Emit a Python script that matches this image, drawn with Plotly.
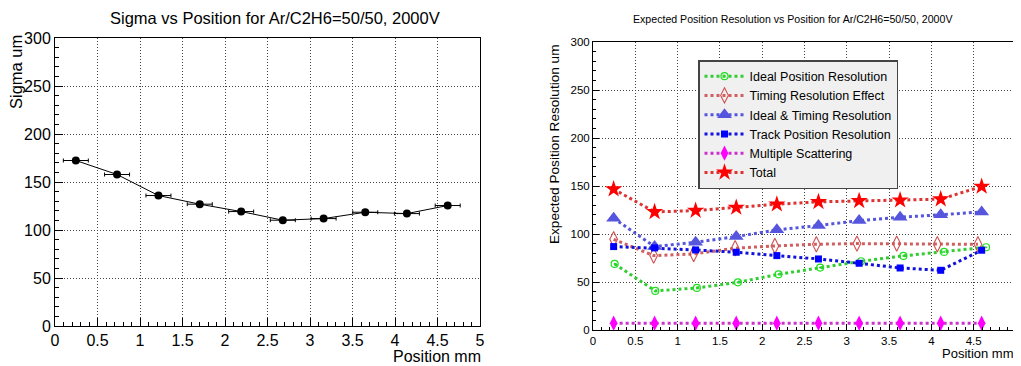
import plotly.graph_objects as go

# ---- Left chart data ----
pos_left = [0.245, 0.73, 1.217, 1.703, 2.19, 2.68, 3.16, 3.65, 4.14, 4.62]
sigma = [172.4, 157.8, 135.9, 126.9, 119.2, 110.2, 111.9, 118.5, 117.1, 125.5]
sigma_xerr = [0.147] * 10
sigma_yerr = [2.0] * 10

# ---- Right chart data ----
pos_main = [0.244, 0.728, 1.213, 1.693, 2.173, 2.665, 3.146, 3.63, 4.11, 4.594]
pos_ideal = [0.256, 0.736, 1.228, 1.713, 2.193, 2.685, 3.169, 3.669, 4.15, 4.646]
pos_timing = [0.244, 0.717, 1.19, 1.68, 2.15, 2.64, 3.12, 3.59, 4.07, 4.55]
ideal_res = [68.8, 40.7, 43.8, 49.7, 58.0, 65.0, 71.6, 77.2, 81.3, 86.2]
timing_eff = [94.5, 77.5, 79.2, 85.2, 87.6, 89.3, 90.0, 90.0, 89.3, 89.3]
ideal_timing = [116.4, 86.9, 91.4, 97.3, 104.3, 108.8, 114.0, 117.5, 120.0, 123.0]
track_res = [86.9, 85.5, 83.4, 81.0, 77.5, 74.0, 69.5, 64.6, 62.2, 83.1]
mult_scat = [7.0, 7.0, 7.0, 7.0, 7.0, 7.0, 7.0, 7.0, 7.0, 7.0]
total = [146.7, 123.0, 124.4, 127.6, 131.0, 133.5, 134.5, 135.2, 136.3, 149.5]

FONT = "Liberation Sans, Arial, Helvetica, sans-serif"

# page body has an 8px margin; figure is placed at (8, 8)
OFF = 8
W, H = 1021 - OFF, 366 - OFF

def px(x):
    return (x - OFF) / W

def py(y):
    return 1 - (y - OFF) / H

fig = go.Figure()

fig.add_trace(go.Scatter(
    x=pos_left, y=sigma, mode="lines+markers", showlegend=False,
    line=dict(color="black", width=1),
    marker=dict(color="black", size=8, symbol="circle"),
    error_x=dict(type="data", array=sigma_xerr, color="black", thickness=1, width=2),
    error_y=dict(type="data", array=sigma_yerr, color="black", thickness=1, width=0),
    xaxis="x", yaxis="y",
))

dot = "3px,3px"
series = [
    ("Ideal Position Resolution", pos_ideal, ideal_res, "#33cc33",
     dict(symbol="circle-open-dot", size=7, color="#22dd22", line=dict(width=1.2, color="#22dd22"))),
    ("Timing Resolution Effect", pos_timing, timing_eff, "#d06060",
     dict(symbol="diamond-tall-open", size=11, color="#d05050", line=dict(width=1.1, color="#d05050"))),
    ("Ideal & Timing Resolution", pos_main, ideal_timing, "#5555dd",
     dict(symbol="triangle-up", size=13, color="#5555dd", line=dict(width=0))),
    ("Track Position Resolution", pos_main, track_res, "#1111dd",
     dict(symbol="square", size=7, color="#0000ff", line=dict(width=0))),
    ("Multiple Scattering", pos_main, mult_scat, "#cc33cc",
     dict(symbol="diamond-tall", size=11, color="#ff00ff", line=dict(width=0))),
    ("Total", pos_main, total, "#dd3333",
     dict(symbol="star", size=13, color="#ff0000", line=dict(width=0))),
]
for name, xs, ys, lc, mk in series:
    fig.add_trace(go.Scatter(
        x=xs, y=ys, name=name, mode="lines+markers",
        line=dict(color=lc, width=3, dash=dot),
        marker=mk, xaxis="x2", yaxis="y2",
    ))

def xaxis_cfg(domain, anchor, fs, minor_len, major_len):
    return dict(
        domain=domain, anchor=anchor, range=[0, 5], dtick=0.5, tick0=0,
        showgrid=True, gridcolor="#444", griddash="1px,2px", gridwidth=1,
        showline=True, mirror=True, linecolor="black", linewidth=1,
        ticks="inside", ticklen=major_len, tickcolor="black",
        minor=dict(dtick=0.1, ticks="inside", ticklen=minor_len, tickcolor="black", showgrid=False),
        tickfont=dict(family=FONT, size=fs, color="black"), zeroline=False,
        tickangle=0, automargin=False,
    )

def yaxis_cfg(domain, anchor, fs, minor_len, major_len):
    return dict(
        domain=domain, anchor=anchor, range=[0, 300], dtick=50, tick0=0,
        showgrid=True, gridcolor="#444", griddash="1px,2px", gridwidth=1,
        showline=True, mirror=True, linecolor="black", linewidth=1,
        ticks="inside", ticklen=major_len, tickcolor="black",
        minor=dict(dtick=10, ticks="inside", ticklen=minor_len, tickcolor="black", showgrid=False),
        tickfont=dict(family=FONT, size=fs, color="black"), zeroline=False,
        automargin=False,
    )

fig.update_layout(
    width=W, height=H,
    margin=dict(l=0, r=0, t=0, b=0, autoexpand=False),
    paper_bgcolor="white", plot_bgcolor="white",
    font=dict(family=FONT, color="black"),
    xaxis=xaxis_cfg([px(55), px(480)], "y", 16, 4, 8),
    yaxis=yaxis_cfg([py(326), py(38)], "x", 16, 4, 8),
    xaxis2=xaxis_cfg([px(593), px(1016)], "y2", 11.5, 3, 6),
    yaxis2=yaxis_cfg([py(330), py(42)], "x2", 11.5, 3, 6),
    legend=dict(
        x=px(698), y=py(60), xanchor="left", yanchor="top", xref="paper", yref="paper",
        bgcolor="#f0f0f0", bordercolor="#444", borderwidth=1.5,
        font=dict(family=FONT, size=12.5, color="black"),
        tracegroupgap=0, itemwidth=40,
    ),
    annotations=[
        dict(text="Sigma vs Position for Ar/C2H6=50/50, 2000V", x=px(275), y=py(18),
             xref="paper", yref="paper", showarrow=False, xanchor="center", yanchor="middle",
             font=dict(size=16.5, family=FONT)),
        dict(text="Expected Position Resolution vs Position for Ar/C2H6=50/50, 2000V",
             x=px(793), y=py(19), xref="paper", yref="paper", showarrow=False,
             xanchor="center", yanchor="middle", font=dict(size=10.6, family=FONT)),
        dict(text="Sigma um", x=px(16), y=py(33), xref="paper", yref="paper",
             textangle=-90, showarrow=False, xanchor="center", yanchor="top",
             font=dict(size=16.5, family=FONT)),
        dict(text="Position mm", x=px(483), y=py(356), xref="paper", yref="paper",
             showarrow=False, xanchor="right", yanchor="middle",
             font=dict(size=16, family=FONT)),
        dict(text="Expected Position Resolution um", x=px(554), y=py(42),
             xref="paper", yref="paper", textangle=-90, showarrow=False,
             xanchor="center", yanchor="top", font=dict(size=13.6, family=FONT)),
        dict(text="Position mm", x=px(1016), y=py(353), xref="paper", yref="paper",
             showarrow=False, xanchor="right", yanchor="middle",
             font=dict(size=13, family=FONT)),
    ],
)

fig.write_html("out.html")
